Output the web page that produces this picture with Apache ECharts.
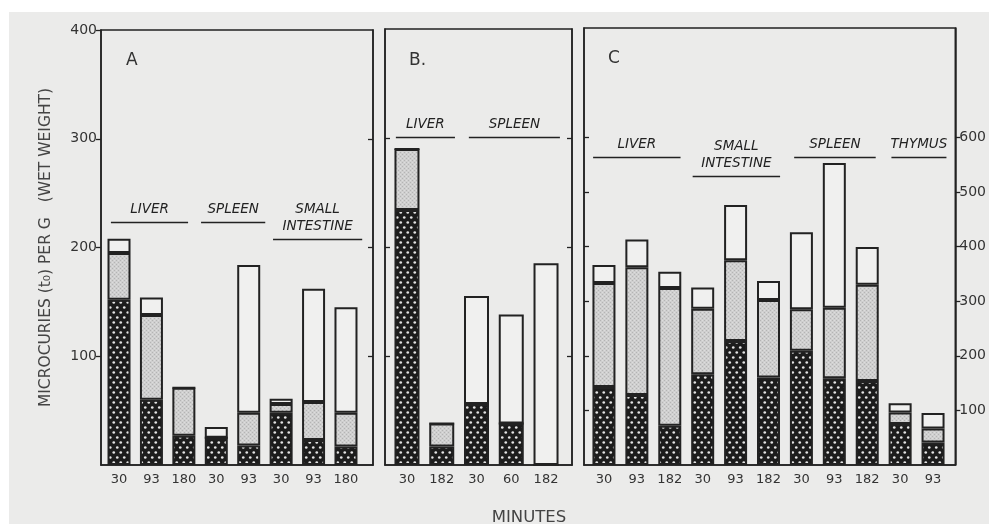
<!DOCTYPE html>
<html><head><meta charset="utf-8">
<script src="https://cdn.jsdelivr.net/npm/echarts@6/dist/echarts.min.js"></script>
<style>html,body{margin:0;padding:0;background:#ebebea}#c{width:989px;height:524px}</style>
</head><body><div id="c"></div>
<script>
// ---- Data ----
// Panel A (left scale, 0-400)
const labelsA = ['30','93','180','30','93','30','93','180'];
const darkA  = [152, 60, 27, 25, 18, 48, 23, 17];
const grayA  = [43, 78, 44, 0, 30, 8, 35, 31];
const whiteA = [13, 16, 0, 10, 136, 5, 104, 97];
// Panel B (left scale, 0-400)
const labelsB = ['30','182','30','60','182'];
const darkB  = [234, 17, 56, 38, 0];
const grayB  = [56, 21, 0, 0, 0];
const whiteB = [0, 0, 99, 100, 185];
// Panel C (right scale, 0-800)
const labelsC = ['30','93','182','30','93','182','30','93','182','30','93'];
const darkC  = [143, 128, 72, 166, 227, 160, 209, 159, 154, 75, 41];
const grayC  = [190, 234, 252, 120, 148, 142, 76, 129, 176, 21, 26];
const whiteC = [33, 51, 30, 39, 101, 35, 141, 265, 69, 17, 28];
// Axis ticks
const leftTicks = [100, 200, 300, 400];
const innerTicks = [100, 200, 300];
const rightTicks = [100, 200, 300, 400, 500, 600];
// Organ groups: [name, fromPos, toPos, level]
const groupsA = [['LIVER', 0.75, 3.13, 223], ['SPLEEN', 3.53, 5.51, 223], ['SMALL\nINTESTINE', 5.75, 8.5, 208]];
const groupsB = [['LIVER', 0.68, 2.38, 301], ['SPLEEN', 2.78, 5.40, 301]];
const groupsC = [['LIVER', 0.67, 3.34, 564], ['SMALL\nINTESTINE', 3.71, 6.38, 529], ['SPLEEN', 6.81, 9.30, 564], ['THYMUS', 9.78, 11.46, 564]];

// ---- Patterns ----
function darkPattern(){
  const c = document.createElement('canvas'); c.width = 7; c.height = 10;
  const g = c.getContext('2d');
  g.fillStyle = '#1c1c1c'; g.fillRect(0,0,7,10);
  g.fillStyle = '#e4e4e4';
  g.beginPath(); g.arc(1.75,2.5,1.35,0,Math.PI*2); g.fill();
  g.beginPath(); g.arc(5.25,7.5,1.35,0,Math.PI*2); g.fill();
  return {image: c, repeat: 'repeat'};
}
function grayPattern(){
  const c = document.createElement('canvas'); c.width = 4; c.height = 4;
  const g = c.getContext('2d');
  g.fillStyle = '#cfcfcf'; g.fillRect(0,0,4,4);
  g.fillStyle = '#b4b4b4';
  g.fillRect(0,0,1,1); g.fillRect(2,2,1,1);
  g.fillStyle = '#dddddd';
  g.fillRect(2,0,1,1); g.fillRect(0,2,1,1);
  return {image: c, repeat: 'repeat'};
}
const DARK = darkPattern(), GRAY = grayPattern(), WHITE = '#f0f0ef';
const INK = '#222';
const FONT = 'DejaVu Sans';
const W = 989, H = 524;

// frame grids (0..2) and bar grids (3..5)
const frames = [[101, 373, 30], [385, 572, 29], [584, 957, 28]];
const barSpans = [[102.8, 362.2], [389.6, 563.4], [587.5, 949.5]];
const xRanges = [[0.444, 8.833], [0.367, 5.748], [0.392, 11.73]];
const labelSets = [labelsA, labelsB, labelsC];

const grid = [];
frames.forEach(f => grid.push({show: true, borderColor: INK, borderWidth: 1.5, left: f[0], right: W - f[1], top: f[2], bottom: H - 465}));
barSpans.forEach((s, i) => grid.push({show: false, left: s[0], right: W - s[1], top: frames[i][2], bottom: H - 465}));

const xAxis = [];
frames.forEach((f, i) => xAxis.push({
  type: 'value', gridIndex: i, min: xRanges[i][0], max: xRanges[i][1],
  axisLine: {show: true, onZero: false, lineStyle: {color: INK, width: 1.5}},
  axisTick: {show: false}, splitLine: {show: false}, axisLabel: {show: false}
}));
labelSets.forEach((labs, i) => xAxis.push({
  type: 'category', gridIndex: 3 + i, data: labs,
  axisLine: {show: false}, axisTick: {show: false}, splitLine: {show: false},
  axisLabel: {color: '#333', fontFamily: FONT, fontSize: 13, margin: 8, interval: 0}
}));

function yAx(gridIdx, pos, max, ticks, showLabels, inside, name){
  return {
    type: 'value', gridIndex: gridIdx, position: pos, min: 0, max: max,
    axisLine: {show: true, lineStyle: {color: INK, width: 1.5}},
    axisTick: {show: true, inside: inside, length: 5, customValues: ticks, lineStyle: {color: INK, width: 1.3}},
    splitLine: {show: false},
    axisLabel: {show: showLabels, customValues: ticks, color: '#333', fontFamily: FONT, fontSize: 14, margin: 4,
      formatter: v => String(v)},
    name: name || '', nameLocation: 'middle', nameGap: 47,
    nameTextStyle: {color: '#444', fontFamily: FONT, fontSize: 15.5}
  };
}
const yAxis = [
  yAx(0, 'left', 400, leftTicks, true, false, 'MICROCURIES (t\u2080) PER G   (WET WEIGHT)'), // 0
  yAx(0, 'right', 400, innerTicks, false, true),   // 1
  yAx(1, 'left', 400, innerTicks, false, true),    // 2
  yAx(1, 'right', 400, innerTicks, false, true),   // 3
  yAx(2, 'left', 800, rightTicks, false, true),    // 4
  yAx(2, 'right', 800, rightTicks, true, false),   // 5
  {type: 'value', gridIndex: 3, min: 0, max: 400, show: false}, // 6
  {type: 'value', gridIndex: 4, min: 0, max: 400, show: false}, // 7
  {type: 'value', gridIndex: 5, min: 0, max: 800, show: false}  // 8
];

function groupLines(groups){
  return {
    silent: true, symbol: 'none',
    lineStyle: {color: INK, width: 1.4, type: 'solid'},
    label: {show: true, position: 'middle', distance: 4, formatter: p => p.name,
      color: '#222', fontFamily: FONT, fontStyle: 'italic', fontSize: 13.5, lineHeight: 17, align: 'center'},
    data: groups.map(gr => [{name: gr[0], coord: [gr[1], gr[3]]}, {coord: [gr[2], gr[3]]}])
  };
}

const series = [];
const panels = [
  [darkA, grayA, whiteA, groupsA, 23, 0],
  [darkB, grayB, whiteB, groupsB, 25, 2],
  [darkC, grayC, whiteC, groupsC, 23, 4]
];
panels.forEach(([d, g, w, groups, bw, frameY], p) => {
  const base = {type: 'bar', xAxisIndex: 3 + p, yAxisIndex: 6 + p, stack: 'p' + p, barWidth: bw, silent: true};
  series.push(Object.assign({}, base, {name: 'dark' + p, data: d,
    itemStyle: {color: DARK, borderColor: INK, borderWidth: 2}}));
  series.push(Object.assign({}, base, {name: 'gray' + p, data: g,
    itemStyle: {color: GRAY, borderColor: INK, borderWidth: 2}}));
  series.push(Object.assign({}, base, {name: 'white' + p, data: w,
    itemStyle: {color: WHITE, borderColor: INK, borderWidth: 2}}));
  // organ group captions, anchored in the frame's coordinates
  series.push({type: 'line', name: 'groups' + p, xAxisIndex: p, yAxisIndex: frameY, data: [], silent: true,
    markLine: groupLines(groups)});
});

const tstyle = {color: '#333', fontFamily: FONT, fontSize: 17, fontWeight: 'normal'};
const option = {
  backgroundColor: '#ebebea',
  animation: false,
  title: [
    {text: 'A', left: 121, top: 47, textStyle: tstyle},
    {text: 'B.', left: 404, top: 47, textStyle: tstyle},
    {text: 'C', left: 603, top: 45, textStyle: tstyle},
    {text: 'MINUTES', left: 524, top: 504, textAlign: 'center', textStyle: {color: '#444', fontFamily: FONT, fontSize: 16.5, fontWeight: 'normal'}}
  ],
  graphic: [
    {type: 'rect', left: 0, top: 0, shape: {width: W, height: 12}, style: {fill: '#ffffff'}, z: -1},
    {type: 'rect', left: 0, top: 0, shape: {width: 9, height: H}, style: {fill: '#ffffff'}, z: -1}
  ],
  grid: grid,
  xAxis: xAxis,
  yAxis: yAxis,
  series: series
};
const chart = echarts.init(document.getElementById('c'), null, {renderer: 'canvas'});
chart.setOption(option);
</script></body></html>
